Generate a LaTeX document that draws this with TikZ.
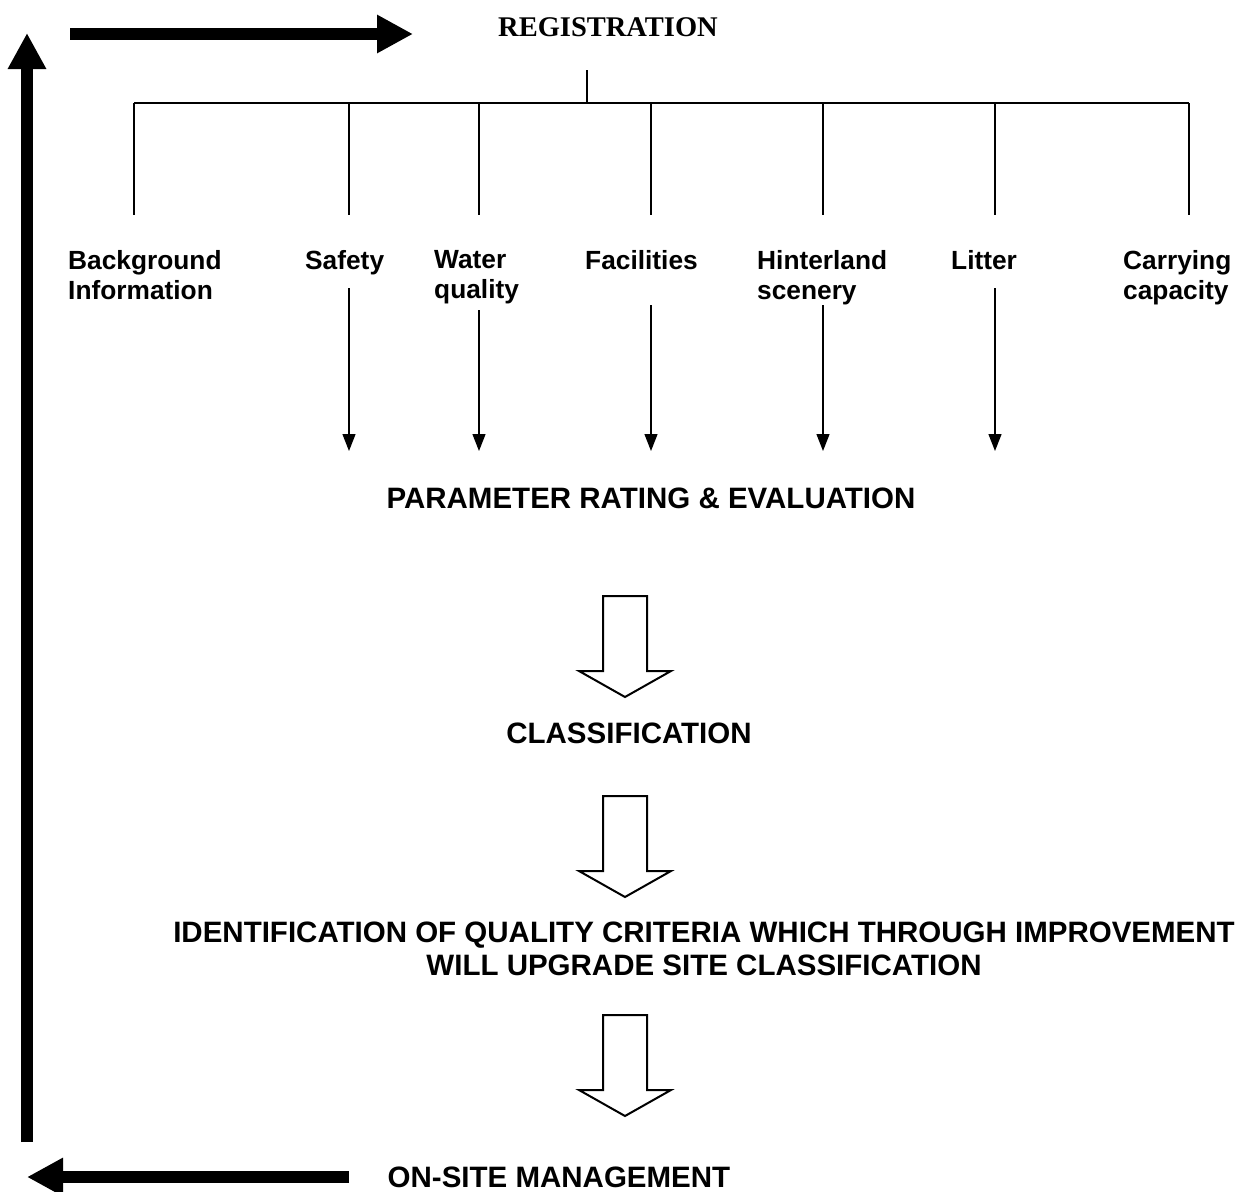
\documentclass[tikz,border=0pt]{standalone}
\usepackage{fontspec}
\setmainfont{Liberation Sans}
\newfontfamily\serifb{Liberation Serif}
\usetikzlibrary{arrows.meta}
\begin{document}
\begin{tikzpicture}[x=1pt,y=-1pt,
  lbl/.style={font=\fontsize{26.3}{30}\selectfont\bfseries,inner sep=0pt,align=left,anchor=north west},
  ttl/.style={font=\fontsize{29.5}{34}\selectfont\bfseries,inner sep=0pt},
  thin/.style={line width=1.3pt},
  thinarr/.style={line width=1.3pt,-{Triangle[length=17pt,width=13pt]}},
  bigarr/.style={line width=12pt,-{Triangle[length=36pt,width=36pt]}},
  hollow/.style={line width=2pt,fill=white,line join=miter}]
\useasboundingbox (0,0) rectangle (1243,1192);
% titles
\node[font=\fontsize{28.5}{34}\selectfont\serifb\bfseries,inner sep=0pt] (reg) at (608,27) {REGISTRATION};
\node[ttl] (par) at (651,498) {PARAMETER RATING \& EVALUATION};
\node[ttl] (cls) at (629,733) {CLASSIFICATION};
\node[ttl,align=center,font=\fontsize{29.5}{33}\selectfont\bfseries] (idf) at (704,949) {IDENTIFICATION OF QUALITY CRITERIA WHICH THROUGH IMPROVEMENT\\WILL UPGRADE SITE CLASSIFICATION};
\node[ttl] (osm) at (559,1177) {ON-SITE MANAGEMENT};
% labels
\node[lbl] (bg) at (68,250) {Background\\Information};
\node[lbl] (sf) at (305,250) {Safety};
\node[lbl] (wq) at (434,250) {Water\\quality};
\node[lbl] (fc) at (585,250) {Facilities};
\node[lbl] (hs) at (757,250) {Hinterland\\scenery};
\node[lbl] (lt) at (951,250) {Litter};
\node[lbl] (cc) at (1123,250) {Carrying\\capacity};
% tree
\coordinate (st) at (587,70);
\coordinate (sb) at (587,103);
\draw[thin] (st) -- (sb);
\draw[thin] (134,103) -- (1189,103);
\foreach \x in {134,349,479,651,823,995,1189}
  \draw[thin] (\x,103) -- (\x,215);
% arrows from labels
\foreach \x/\y in {349/288,479/310,651/305,823/305,995/288}{
  \coordinate (a\x) at (\x,\y);
  \coordinate (b\x) at (\x,451);
  \draw[thinarr] (a\x) -- (b\x);
}
% hollow arrows
\foreach \t/\c in {596/625,796/625,1015/625}{
  \draw[hollow] (\c-22,\t) -- (\c+22,\t) -- (\c+22,\t+75) -- (\c+46,\t+75) -- (\c,\t+101) -- (\c-46,\t+75) -- (\c-22,\t+75) -- cycle;
}
% feedback loop arrows
\coordinate (l1) at (70,34);
\coordinate (l2) at (413,34);
\draw[bigarr] (l1) -- (l2);
\coordinate (v1) at (27,1142);
\coordinate (v2) at (27,33);
\draw[bigarr] (v1) -- (v2);
\coordinate (h1) at (349,1177);
\coordinate (h2) at (27,1177);
\draw[bigarr] (h1) -- (h2);
\end{tikzpicture}
\end{document}
